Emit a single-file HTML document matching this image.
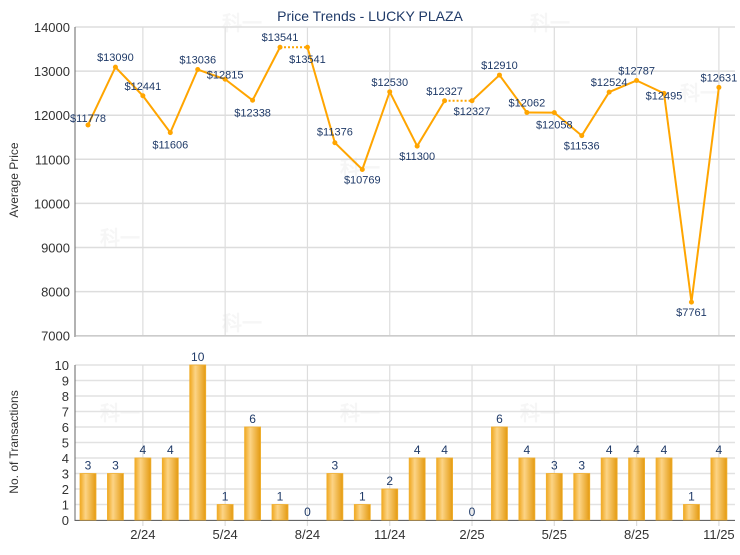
<!DOCTYPE html>
<html><head><meta charset="utf-8"><style>
body{margin:0;background:#fff;font-family:"Liberation Sans",sans-serif}
svg text{font-family:"Liberation Sans",sans-serif}
</style></head><body>
<svg id="c" width="740" height="550" xmlns="http://www.w3.org/2000/svg">
<defs>
<linearGradient id="g" x1="0" x2="1" y1="0" y2="0">
<stop offset="0" stop-color="#f0a820"/><stop offset="0.35" stop-color="#fcd486"/><stop offset="1" stop-color="#e49a10"/>
</linearGradient>
</defs>
<text x="370" y="21" text-anchor="middle" font-size="14" fill="#1f3a68">Price Trends - LUCKY PLAZA</text>
<text transform="translate(18,180) rotate(-90)" text-anchor="middle" font-size="12" fill="#333">Average Price</text>
<text transform="translate(18,442) rotate(-90)" text-anchor="middle" font-size="12" fill="#333">No. of Transactions</text>
</svg>
<script>
const s=document.getElementById('c');const NS='http://www.w3.org/2000/svg';
function el(t,a,txt){const e=document.createElementNS(NS,t);for(const k in a)e.setAttribute(k,a[k]);if(txt!==undefined)e.textContent=txt;s.appendChild(e);return e;}
const P=[11778,13090,12441,11606,13036,12815,12338,13541,13541,11376,10769,12530,11300,12327,12327,12910,12062,12058,11536,12524,12787,12495,7761,12631];
const C=[3,3,4,4,10,1,6,1,0,3,1,2,4,4,0,6,4,3,3,4,4,4,1,4];
const L=75,R=735;const X=i=>88+i*27.43;
const Y=v=>27+(14000-v)*0.0441;const YB=v=>520-v*15.5;
// watermarks
[[222,30],[222,330],[530,30],[340,175],[100,245],[680,100],[340,420],[520,420],[100,420]].forEach(p=>el('text',{x:p[0],y:p[1],'font-size':20,'font-weight':'bold',fill:'#f6f6f6','font-family':'Noto Sans CJK SC, sans-serif'},'科一'));
for(let v=7000;v<=14000;v+=1000){el('line',{x1:L,x2:R,y1:Y(v),y2:Y(v),stroke:'#ddd','stroke-width':1.5});el('text',{x:L-5,y:Y(v)+5,'text-anchor':'end','font-size':13,fill:'#333'},v);}
for(let v=0;v<=10;v++){el('line',{x1:L,x2:R,y1:YB(v),y2:YB(v),stroke:'#e2e2e2','stroke-width':1.5});el('text',{x:L-6,y:YB(v)+5,'text-anchor':'end','font-size':13,fill:'#333'},v);}
const lab=['2/24','5/24','8/24','11/24','2/25','5/25','8/25','11/25'];
lab.forEach((t,k)=>{const x=X(2+3*k);el('line',{x1:x,x2:x,y1:27,y2:336,stroke:'#ddd','stroke-width':1.2});el('line',{x1:x,x2:x,y1:365,y2:526,stroke:'#ddd','stroke-width':1.2});el('text',{x:x,y:539,'text-anchor':'middle','font-size':13,fill:'#333'},t);});
el('line',{x1:L,x2:L,y1:27,y2:337,stroke:'#666'});el('line',{x1:L,x2:L,y1:365,y2:521,stroke:'#666'});
el('line',{x1:L,x2:R,y1:336,y2:336,stroke:'#bbb'});el('line',{x1:L,x2:R,y1:520.5,y2:520.5,stroke:'#666'});
C.forEach((c,i)=>{if(c>0)el('rect',{x:X(i)-8,y:YB(c),width:16,height:YB(0)-YB(c),fill:'url(#g)',stroke:'#f0b030','stroke-width':0.8});el('text',{x:X(i),y:YB(c)-4,'text-anchor':'middle','font-size':12,fill:'#1f3a68'},c);});
for(let i=0;i<23;i++){const d=(C[i+1]==0)?{'stroke-dasharray':'2,2'}:{};el('line',Object.assign({x1:X(i),y1:Y(P[i]),x2:X(i+1),y2:Y(P[i+1]),stroke:'#ffa500','stroke-width':2},d));}
const off={0:[0,-3],3:[0,16],5:[0,-1],6:[0,16],8:[0,16],9:[0,-7],10:[0,14],12:[0,14],14:[0,14],17:[0,16],18:[0,14],21:[0,6],22:[0,14],7:[0,-6]};
P.forEach((v,i)=>{el('circle',{cx:X(i),cy:Y(v),r:2.5,fill:'#ffa500'});const o=off[i]||[0,-6];el('text',{x:X(i)+o[0],y:Y(v)+o[1],'text-anchor':'middle','font-size':11,fill:'#1f3a68'},'$'+v);});
</script>
</body></html>
